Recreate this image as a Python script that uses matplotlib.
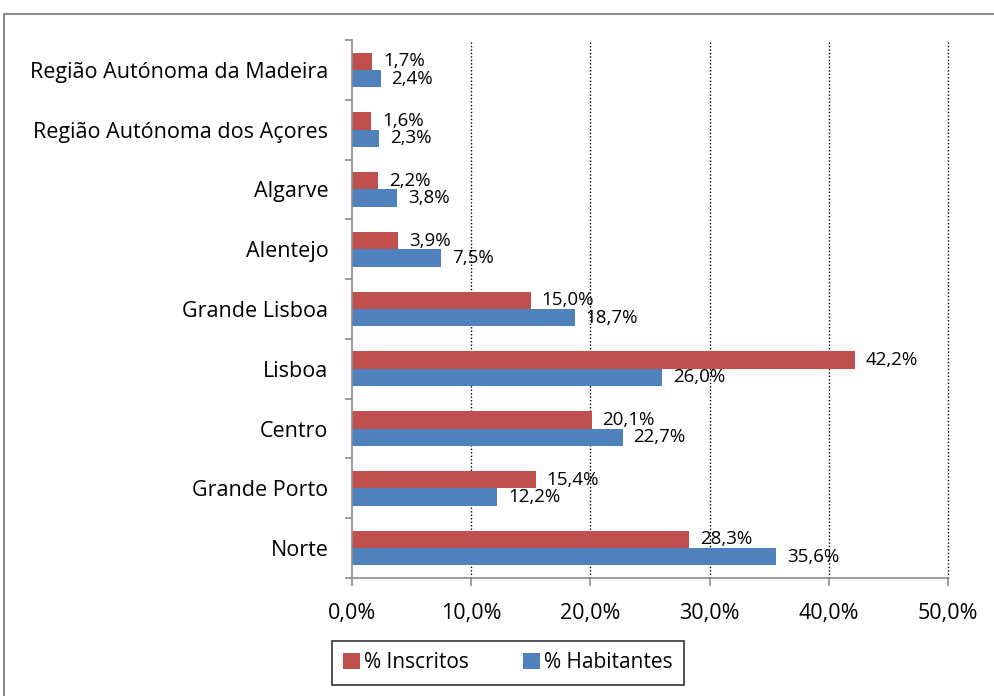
import numpy as np
import matplotlib.pyplot as plt
from matplotlib.patches import Rectangle
from matplotlib.ticker import FuncFormatter, FixedLocator

regioes = ['Norte', 'Grande Porto', 'Centro', 'Lisboa', 'Grande Lisboa',
           'Alentejo', 'Algarve', 'Região Autónoma dos Açores',
           'Região Autónoma da Madeira']
inscritos = [28.3, 15.4, 20.1, 42.2, 15.0, 3.9, 2.2, 1.6, 1.7]
habitantes = [35.6, 12.2, 22.7, 26.0, 18.7, 7.5, 3.8, 2.3, 2.4]

plt.rcParams['font.family'] = ['Open Sans', 'DejaVu Sans']

fig = plt.figure(figsize=(9.95, 6.96), dpi=100)
ax = fig.add_axes([352/995, 1-578/696, 596/995, 538/696])

# moldura do grafico
fig.patches.append(Rectangle((4/995, -0.1), 1.1, 1.1-14/696, transform=fig.transFigure,
                             fill=False, edgecolor='#8c8c8c', linewidth=1.5))

y = np.arange(len(regioes))
h = 0.29
ax.barh(y + h/2, inscritos, height=h, color='#C0504D', label='% Inscritos')
ax.barh(y - h/2, habitantes, height=h, color='#4F81BD', label='% Habitantes')

def fmt(v):
    return ('%.1f%%' % v).replace('.', ',')

for i in range(len(regioes)):
    ax.text(inscritos[i] + 0.9, y[i] + h/2, fmt(inscritos[i]), va='center',
            ha='left', fontsize=13.5)
    ax.text(habitantes[i] + 0.9, y[i] - h/2, fmt(habitantes[i]), va='center',
            ha='left', fontsize=13.5)

ax.set_xlim(0, 50)
ax.set_ylim(-0.5, len(regioes) - 0.5)
ax.set_xticks(np.arange(0, 51, 10))
ax.xaxis.set_major_formatter(FuncFormatter(lambda v, p: fmt(v)))
ax.set_yticks(y)
ax.set_yticklabels(regioes)
ax.yaxis.set_minor_locator(FixedLocator(np.arange(-0.5, len(regioes), 1)))
ax.tick_params(axis='y', which='major', length=0, pad=17, labelsize=15.5)
ax.tick_params(axis='y', which='minor', length=5, color='#8c8c8c', width=1.2)
ax.tick_params(axis='x', length=6, color='#8c8c8c', width=1.2, pad=12, labelsize=15.5)

for s in ['top', 'right']:
    ax.spines[s].set_visible(False)
for s in ['left', 'bottom']:
    ax.spines[s].set_color('#8c8c8c')
    ax.spines[s].set_linewidth(1.2)

for gx in range(10, 51, 10):
    ax.axvline(gx, color='black', linestyle=(0, (1, 1.5)), linewidth=1, zorder=0,
               clip_on=False)

leg = fig.legend(loc='center', bbox_to_anchor=(508/995, 1-663/696), ncol=2,
                 fontsize=15, frameon=True, fancybox=False, edgecolor='black',
                 handlelength=0.8, handleheight=0.8, handletextpad=0.2,
                 columnspacing=2.6, borderpad=0.55, borderaxespad=0)
leg.get_frame().set_linewidth(1.2)

fig.savefig('out.png', dpi=100)
